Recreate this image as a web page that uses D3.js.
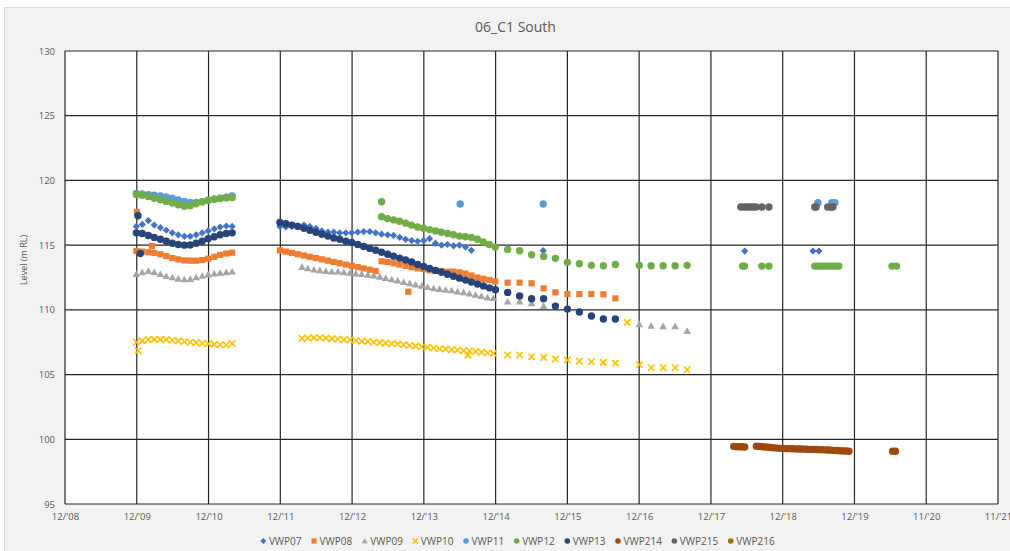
<!DOCTYPE html>
<html>
<head>
<meta charset="utf-8">
<script src="https://cdn.jsdelivr.net/npm/d3@7"></script>
<style>
  html, body { margin: 0; padding: 0; background: #ffffff; }
  svg { display: block; font-family: "Open Sans", "Liberation Sans", sans-serif; }
</style>
</head>
<body>
<svg id="chart" width="1010" height="551"></svg>
<script>
// ---------------------------------------------------------------
// Axes
// ---------------------------------------------------------------
const chartTitle = "06_C1 South";
const yAxisTitle = "Level (m RL)";
const axisStartDate = "2008-12-03";          // date axis steps 365 days from here
const xTickLabels = ["12/'08", "12/'09", "12/'10", "12/'11", "12/'12", "12/'13", "12/'14",
                     "12/'15", "12/'16", "12/'17", "12/'18", "12/'19", "11/'20", "11/'21"];
const yTicks = [95, 100, 105, 110, 115, 120, 125, 130];

// ---------------------------------------------------------------
// Series
// ---------------------------------------------------------------
const seriesNames  = ["VWP07", "VWP08", "VWP09", "VWP10", "VWP11", "VWP12", "VWP13", "VWP214", "VWP215", "VWP216"];
const seriesColors = ["#4472C4", "#ED7D31", "#A5A5A5", "#FFC000", "#5B9BD5", "#70AD47", "#264478", "#9E480E", "#636363", "#997300"];
const seriesShapes = ["diamond", "square", "triangle", "cross", "circle", "circle", "circle", "circle", "circle", "circle"];

// Logger runs: [first reading, days between readings, levels (null = no reading)]
// Single readings: [date, level]
const vwp07Runs = [
  ["2009-12-01", 30.44, [116.45, 116.6, 116.9, 116.55, 116.35, 116.15, 115.95, 115.8, 115.68, 115.68, 115.8, 115.95, 116.1, 116.25, 116.4, 116.48, 116.45]],
  ["2011-12-01", 30.44, [116.45, 116.4, 116.45, 116.5, 116.55, 116.45, 116.3, 116.1, 116.0, 116.0, 115.95, 115.95, 115.95, 116.0, 116.05, 116.05, 115.95,
                         115.85, 115.8, 115.75, 115.6, 115.45, 115.35, 115.3, 115.35, 115.5, 115.15, 115.0, 115.05, 114.95, 115.0, 114.85, 114.6]]
];
const vwp07Points = [["2015-08-01", 114.57], ["2018-05-22", 114.54], ["2019-05-04", 114.54], ["2019-06-03", 114.54]];

const vwp08Runs = [
  ["2009-12-01", 30.44, [114.55, 114.5, 114.45, 114.4, 114.3, 114.15, 114.0, 113.9, 113.82, 113.8, 113.8, 113.85, 113.95, 114.1, 114.25, 114.35, 114.42]],
  ["2011-12-01", 30.44, [114.6, 114.5, 114.4, 114.3, 114.2, 114.1, 114.0, 113.9, 113.8, 113.7, 113.6, 113.5, 113.4, 113.3, 113.2, 113.1, 113.0]],
  ["2013-05-01", 30.44, [113.75, 113.7, 113.6, 113.5, 113.4, 113.3, 113.2, 113.15, 113.05, 113.0, 113.0, 112.95, 112.95, 112.9, 112.8, 112.65, 112.5, 112.4, 112.3, 112.2]],
  ["2015-02-01", 60.87, [112.1, 112.1, 112.05, 111.66, 111.35, 111.22, 111.22, 111.22, 111.2, 110.89]]
];
const vwp08Points = [["2009-12-04", 117.56], ["2010-02-18", 114.93], ["2013-09-14", 111.4]];

const vwp09Runs = [
  ["2009-12-01", 30.44, [112.75, 112.9, 113.0, 112.9, 112.75, 112.6, 112.5, 112.4, 112.35, 112.38, 112.5, 112.62, 112.72, 112.8, 112.85, 112.9, 112.95]],
  ["2012-03-22", 30.44, [113.3, 113.2, 113.1, 113.05, 113.0, 112.95, 112.95, 112.9, 112.85, 112.8, 112.75, 112.7, 112.65, 112.55, 112.45, 112.35, 112.25,
                         112.15, 112.05, 111.95, 111.85, 111.75, 111.65, 111.6, 111.55, 111.5, 111.4, 111.35, 111.25, 111.15, 111.05, 110.95, 110.9]],
  ["2015-02-01", 60.87, [110.63, 110.63, 110.5, 110.29, null, null, null, null, null, null, null, 108.88, 108.77, 108.72, 108.72, 108.36]]
];
const vwp09Points = [];

const vwp10Runs = [
  ["2009-12-01", 30.44, [107.5, 107.62, 107.7, 107.72, 107.72, 107.7, 107.65, 107.6, 107.55, 107.5, 107.47, 107.42, 107.38, 107.33, 107.3, 107.3, 107.4]],
  ["2012-03-22", 30.44, [107.8, 107.82, 107.85, 107.85, 107.82, 107.78, 107.75, 107.7, 107.67, 107.62, 107.58, 107.55, 107.5, 107.47, 107.43, 107.4, 107.35,
                         107.3, 107.25, 107.2, 107.15, 107.1, 107.05, 107.0, 106.97, 106.93, 106.9, 106.85, 106.82, 106.78, 106.72, 106.68, 106.64]],
  ["2015-02-01", 60.87, [106.51, 106.51, 106.38, 106.33, 106.2, 106.12, 106.04, 105.99, 105.94, 105.89, 109.03, 105.76, 105.53, 105.53, 105.53, 105.37]]
];
const vwp10Points = [["2009-12-10", 106.84], ["2014-07-15", 106.5]];

const vwp11Runs = [
  ["2009-12-01", 30.44, [119.0, 118.95, 118.9, 118.85, 118.8, 118.72, 118.62, 118.5, 118.38, 118.3, 118.3, 118.35, 118.45, 118.55, 118.62, 118.7, 118.8]]
];
const vwp11Points = [["2014-06-05", 118.18], ["2015-08-01", 118.18], ["2019-05-29", 118.28], ["2019-08-08", 118.28], ["2019-08-23", 118.28]];

const vwp12Runs = [
  ["2009-12-01", 30.44, [118.92, 118.85, 118.75, 118.62, 118.5, 118.38, 118.25, 118.12, 118.0, 118.05, 118.2, 118.35, 118.48, 118.55, 118.6, 118.65, 118.68]],
  ["2013-05-01", 30.44, [117.2, 117.05, 116.95, 116.85, 116.7, 116.55, 116.4, 116.3, 116.2, 116.1, 116.0, 115.9, 115.8, 115.7, 115.65, 115.6, 115.45, 115.25, 115.05, 114.85]],
  ["2015-02-01", 60.87, [114.67, 114.57, 114.26, 114.13, 113.98, 113.67, 113.56, 113.44, 113.41, 113.51, null, 113.44, 113.41, 113.41, 113.41, 113.44]],
  ["2019-05-13", 15.2, [113.38, 113.38, 113.38, 113.38, 113.38, 113.38, 113.38, 113.38, 113.38]]
];
const vwp12Points = [["2013-05-01", 118.36], ["2018-05-11", 113.38], ["2018-05-21", 113.38], ["2018-08-17", 113.38], ["2018-09-22", 113.38],
                     ["2020-06-09", 113.38], ["2020-07-02", 113.38]];

const vwp13Runs = [
  ["2009-12-01", 30.44, [115.95, 115.9, 115.75, 115.6, 115.45, 115.3, 115.15, 115.05, 115.0, 115.02, 115.15, 115.3, 115.5, 115.65, 115.8, 115.9, 115.95]],
  ["2011-12-01", 30.44, [116.75, 116.65, 116.55, 116.45, 116.3, 116.15, 116.0, 115.85, 115.7, 115.55, 115.45, 115.3, 115.2,
                         115.05, 114.9, 114.75, 114.6, 114.45, 114.3, 114.15, 114.0, 113.85, 113.7, 113.5, 113.35,
                         113.2, 113.05, 112.9, 112.75, 112.6, 112.45, 112.3, 112.15, 112.0, 111.85, 111.7, 111.55]],
  ["2015-02-01", 60.87, [111.35, 111.07, 110.86, 110.86, 110.29, 110.06, 109.83, 109.52, 109.29, 109.29]]
];
const vwp13Points = [["2009-12-09", 117.27], ["2009-12-21", 114.36]];

const vwp214Runs = [
  ["2018-03-27", 14, [99.45, 99.43, 99.42, 99.42, 99.4]],
  ["2018-07-20", 15.2, [99.47, 99.45, 99.42, 99.4, 99.38, 99.36, 99.34, 99.32, 99.3, 99.3, 99.28, 99.28, 99.27, 99.26, 99.25, 99.25,
                        99.24, 99.23, 99.22, 99.22, 99.21, 99.2, 99.2, 99.18, 99.17, 99.16, 99.14, 99.13, 99.12, 99.1, 99.09, 99.08]]
];
const vwp214Points = [["2020-06-12", 99.07], ["2020-06-27", 99.07]];

const vwp215Runs = [];
const vwp215Points = [["2018-05-02", 117.95], ["2018-05-17", 117.95], ["2018-06-02", 117.95], ["2018-06-17", 117.95], ["2018-07-02", 117.95],
                      ["2018-07-17", 117.95], ["2018-08-17", 117.95], ["2018-09-22", 117.95],
                      ["2019-05-13", 117.95], ["2019-05-20", 117.95], ["2019-07-18", 117.95], ["2019-08-03", 117.95], ["2019-08-13", 117.95]];

const vwp216Runs = [];
const vwp216Points = [];

const runsBySeries   = [vwp07Runs, vwp08Runs, vwp09Runs, vwp10Runs, vwp11Runs, vwp12Runs, vwp13Runs, vwp214Runs, vwp215Runs, vwp216Runs];
const pointsBySeries = [vwp07Points, vwp08Points, vwp09Points, vwp10Points, vwp11Points, vwp12Points, vwp13Points, vwp214Points, vwp215Points, vwp216Points];

// ---------------------------------------------------------------
// Layout
// ---------------------------------------------------------------
const W = 1010, H = 551;
const plot = { left: 65, top: 51, right: 998, bottom: 504 };
const textColor = "#595959";
const gridColor = "#262626";

const parseDate = d3.timeParse("%Y-%m-%d");
const start = parseDate(axisStartDate);
const tickDates = xTickLabels.map((_, i) => d3.timeDay.offset(start, 365 * i));

const x = d3.scaleTime()
  .domain([start, tickDates[tickDates.length - 1]])
  .range([plot.left, plot.right]);
const y = d3.scaleLinear()
  .domain([d3.min(yTicks), d3.max(yTicks)])
  .range([plot.bottom, plot.top]);

// Expand runs and single readings into one list per series
const seriesData = seriesNames.map((name, s) => {
  const pts = [];
  runsBySeries[s].forEach(([first, step, levels]) => {
    const d0 = parseDate(first);
    levels.forEach((v, k) => {
      if (v !== null) pts.push({ date: d3.timeDay.offset(d0, Math.round(k * step)), value: v });
    });
  });
  pointsBySeries[s].forEach(([d, v]) => pts.push({ date: parseDate(d), value: v }));
  return { name, color: seriesColors[s], shape: seriesShapes[s], points: pts };
});

const svg = d3.select("#chart");

// chart area
svg.append("rect")
  .attr("x", 4.5).attr("y", 7.5)
  .attr("width", W - 4).attr("height", H - 7)
  .attr("fill", "#f2f2f2")
  .attr("stroke", "#d9d9d9");

// plot area
svg.append("rect")
  .attr("x", plot.left).attr("y", plot.top)
  .attr("width", plot.right - plot.left).attr("height", plot.bottom - plot.top)
  .attr("fill", "#ffffff");

// grid
const grid = svg.append("g").attr("stroke", gridColor).attr("stroke-width", 1.2).attr("fill", "none");
grid.selectAll("line.h").data(yTicks).join("line")
  .attr("class", "h")
  .attr("x1", plot.left).attr("x2", plot.right)
  .attr("y1", d => y(d)).attr("y2", d => y(d));
grid.selectAll("line.v").data(tickDates).join("line")
  .attr("class", "v")
  .attr("x1", d => x(d)).attr("x2", d => x(d))
  .attr("y1", plot.top).attr("y2", plot.bottom);

// y axis
const yAxis = d3.axisLeft(y).tickValues(yTicks).tickSize(0).tickPadding(10).tickFormat(d3.format("d"));
svg.append("g")
  .attr("transform", `translate(${plot.left},0)`)
  .call(yAxis)
  .call(g => g.select(".domain").remove())
  .call(g => g.selectAll("text")
    .attr("fill", textColor)
    .style("font-family", "'Open Sans', sans-serif")
    .style("font-size", "9.5px"));

// x axis
const xAxis = d3.axisBottom(x).tickValues(tickDates).tickSize(0).tickPadding(9)
  .tickFormat((d, i) => xTickLabels[i]);
svg.append("g")
  .attr("transform", `translate(0,${plot.bottom})`)
  .call(xAxis)
  .call(g => g.select(".domain").remove())
  .call(g => g.selectAll("text")
    .attr("fill", textColor)
    .style("font-family", "'Open Sans', sans-serif")
    .style("font-size", "9.5px"));

// titles
svg.append("text")
  .attr("x", 515.5).attr("y", 32)
  .attr("text-anchor", "middle")
  .attr("fill", textColor)
  .style("font-size", "14px")
  .text(chartTitle);

svg.append("text")
  .attr("transform", "translate(26.5,260) rotate(-90)")
  .attr("text-anchor", "middle")
  .attr("fill", textColor)
  .style("font-size", "9px")
  .text(yAxisTitle);

// marker drawing
function drawMarker(sel, shape, color, r) {
  if (shape === "circle") {
    sel.append("circle").attr("r", r).attr("fill", color);
  } else if (shape === "square") {
    sel.append("rect").attr("x", -r * 0.86).attr("y", -r * 0.86)
      .attr("width", r * 1.72).attr("height", r * 1.72).attr("fill", color);
  } else if (shape === "diamond") {
    sel.append("path").attr("d", `M0,${-r}L${r},0L0,${r}L${-r},0Z`).attr("fill", color);
  } else if (shape === "triangle") {
    sel.append("path").attr("d", `M0,${-r}L${r},${r * 0.75}L${-r},${r * 0.75}Z`).attr("fill", color);
  } else if (shape === "cross") {
    const c = r * 0.85;
    sel.append("path").attr("d", `M${-c},${-c}L${c},${c}M${-c},${c}L${c},${-c}`)
      .attr("stroke", color).attr("stroke-width", 1.6).attr("fill", "none");
  }
}

const markerSize = { circle: 3.7, square: 3.6, diamond: 3.6, triangle: 3.8, cross: 3.8 };

// data markers, in series order so later series sit on top
const marks = svg.append("g");
seriesData.forEach(s => {
  const g = marks.append("g").attr("class", "series");
  g.selectAll("g").data(s.points).join("g")
    .attr("transform", d => `translate(${x(d.date)},${y(d.value)})`)
    .each(function () { drawMarker(d3.select(this), s.shape, s.color, markerSize[s.shape]); });
});

// legend
const legend = svg.append("g");
let cursor = 0;
seriesData.forEach(s => {
  const item = legend.append("g").attr("transform", `translate(${cursor},0)`);
  const m = item.append("g");
  drawMarker(m, s.shape, s.color, s.shape === "circle" ? 2.8 : 3);
  const t = item.append("text")
    .attr("x", 5.5).attr("y", 3.6)
    .attr("fill", textColor)
    .style("font-size", "10px")
    .text(s.name);
  cursor += 5.5 + t.node().getComputedTextLength() + 12.5;
});
const legendWidth = cursor - 12.5 + 3;
legend.attr("transform", `translate(${517.5 - legendWidth / 2 + 3},541)`);
</script>
</body>
</html>
